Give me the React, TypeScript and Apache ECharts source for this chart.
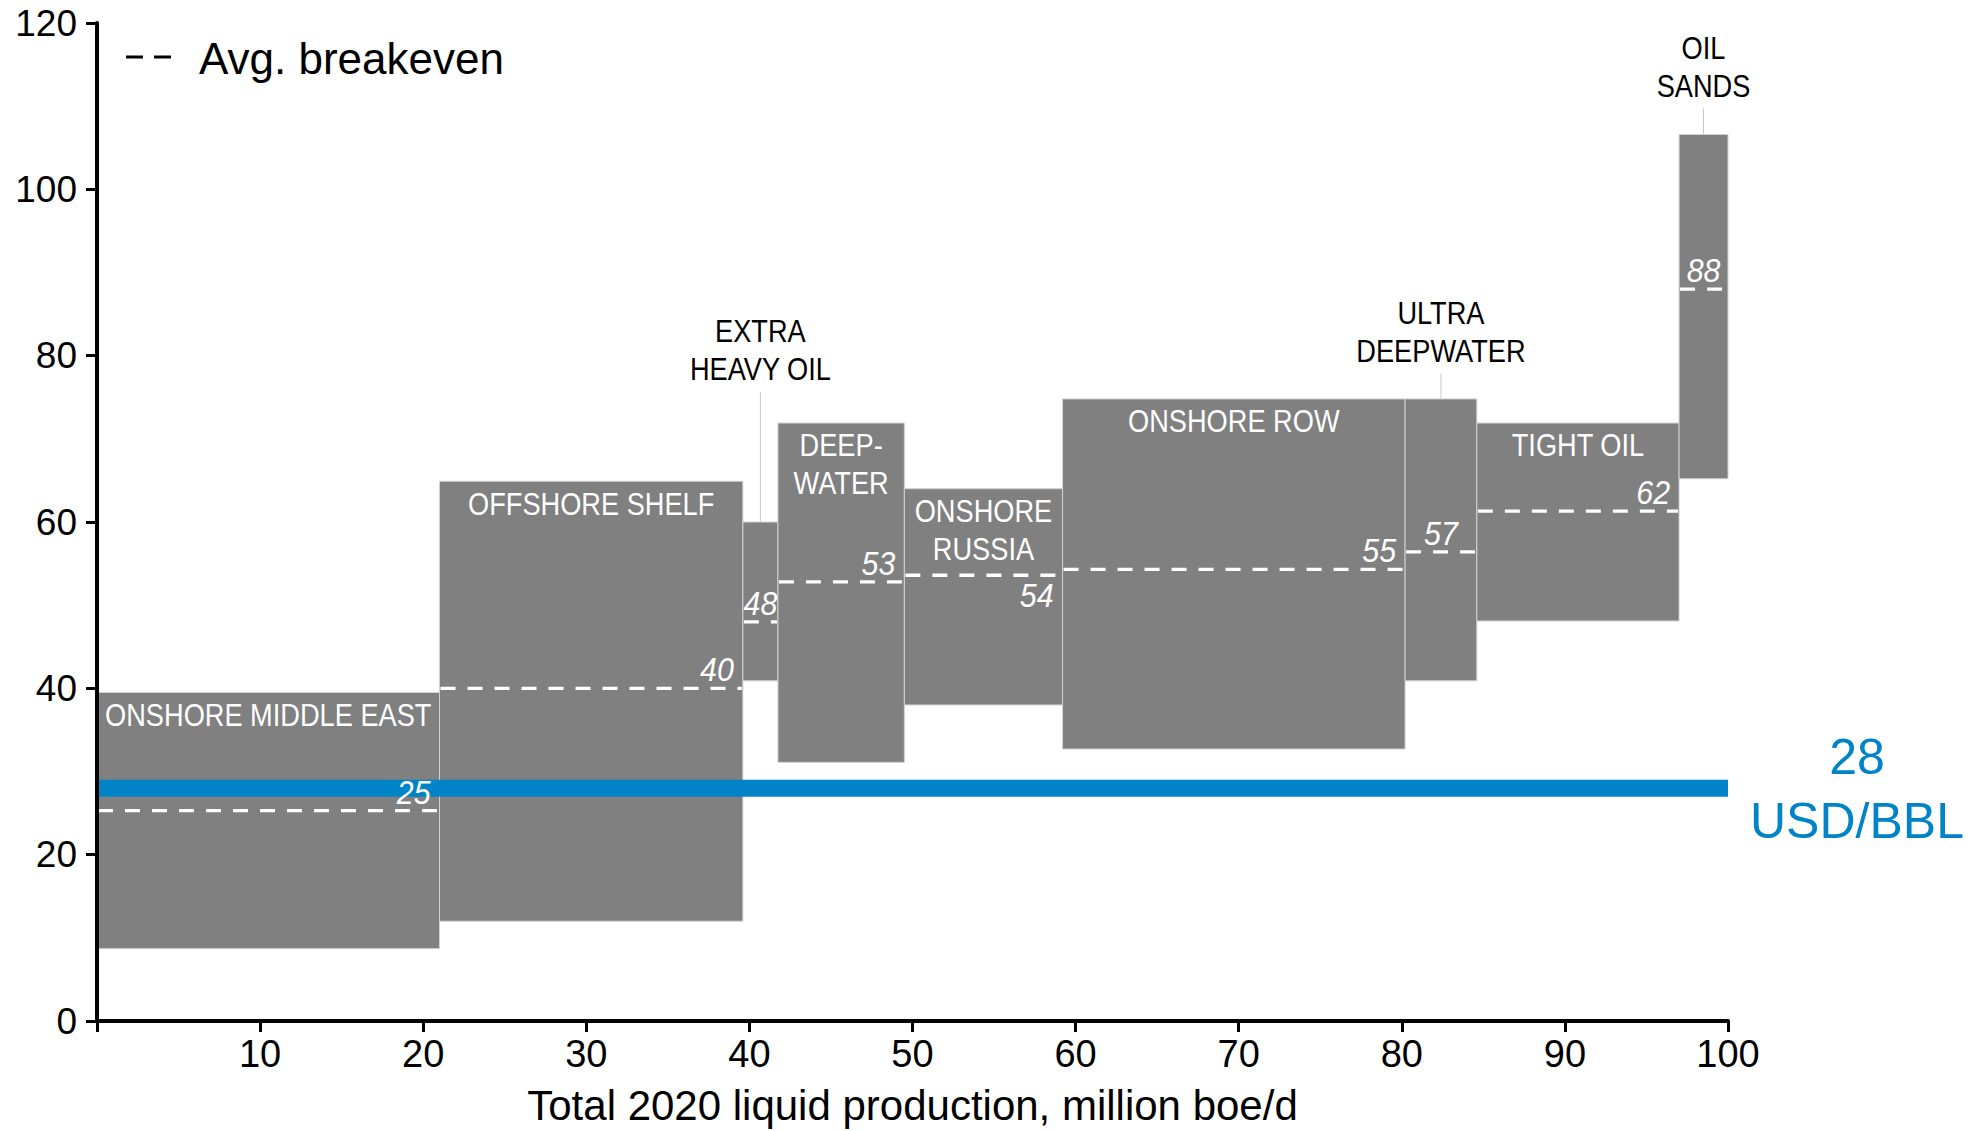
import React, { useEffect, useRef } from 'react';
import * as echarts from 'echarts';

// ---------- data ----------
const categories = [
  'ONSHORE MIDDLE EAST',
  'OFFSHORE SHELF',
  'EXTRA HEAVY OIL',
  'DEEPWATER',
  'ONSHORE RUSSIA',
  'ONSHORE ROW',
  'ULTRA DEEPWATER',
  'TIGHT OIL',
  'OIL SANDS',
];
const categoryLabels = [
  'ONSHORE MIDDLE EAST',
  'OFFSHORE SHELF',
  'EXTRA\nHEAVY OIL',
  'DEEP-\nWATER',
  'ONSHORE\nRUSSIA',
  'ONSHORE ROW',
  'ULTRA\nDEEPWATER',
  'TIGHT OIL',
  'OIL\nSANDS',
];
// production, million boe/d (width of each block)
const production = [21, 18.6, 2.15, 7.75, 9.7, 21, 4.4, 12.4, 3];
// cost range, USD/bbl
const costLow = [8.7, 12, 40.9, 31.1, 38, 32.7, 40.9, 48.1, 65.2];
const costHigh = [39.5, 64.9, 60, 71.9, 64, 74.8, 74.8, 71.9, 106.6];
// average breakeven
const breakeven = [25.3, 40, 48, 52.8, 53.6, 54.3, 56.4, 61.3, 88];
const breakevenLabels = ['25', '40', '48', '53', '54', '55', '57', '62', '88'];
// oil price reference
const oilPrice = 28;
const oilPriceLabel = ['28', 'USD/BBL'];

const legendText = 'Avg. breakeven';
const xAxisTitle = 'Total 2020 liquid production, million boe/d';

// ---------- style / layout settings ----------
const outsideLabel = [false, false, true, false, false, false, true, false, true];
const leaderPx = [0, 0, 130, 0, 0, 0, 25, 0, 26];
const breakevenBelow = [false, false, false, false, true, false, false, false, false];

const REG = "'Liberation Sans', Arial, sans-serif";
const GREY = '#808080';
const BLUE = '#0083c8';
const CAPS_SCALE = 0.85;

const starts: number[] = [];
const ends: number[] = [];
{
  let acc = 0;
  production.forEach((p) => {
    starts.push(acc);
    acc += p;
    ends.push(acc);
  });
}

const segData = categories.map((_, i) => [starts[i], ends[i], costLow[i], costHigh[i], breakeven[i]]);

export default function App() {
  const ref = useRef<HTMLDivElement>(null);

  useEffect(() => {
    if (!ref.current) return;
    const chart = echarts.init(ref.current, null, { renderer: 'svg' });

    const axisCommon = {
      z: 10,
      axisLine: { show: true, lineStyle: { color: '#000', width: 4 } },
      axisTick: { show: true, length: 11, lineStyle: { color: '#000', width: 3 } },
      splitLine: { show: false },
    };

    const option: any = {
      animation: false,
      grid: { left: 97, right: 253, top: 23, bottom: 105 },
      xAxis: {
        ...axisCommon,
        type: 'value',
        min: 0,
        max: 100,
        interval: 10,
        axisLabel: {
          margin: 14,
          color: '#000',
          fontFamily: REG,
          fontSize: 38,
          formatter: (v: number) => (v === 0 ? '' : String(v)),
        },
        name: xAxisTitle,
        nameLocation: 'middle',
        nameGap: 63,
        nameTextStyle: { color: '#000', fontFamily: REG, fontSize: 42 },
      },
      yAxis: {
        ...axisCommon,
        type: 'value',
        min: 0,
        max: 120,
        interval: 20,
        axisLabel: {
          margin: 20,
          color: '#000',
          fontFamily: REG,
          fontSize: 37,
        },
      },
      graphic: [
        {
          type: 'line',
          shape: { x1: 126, y1: 57, x2: 171, y2: 57 },
          style: { stroke: '#000', lineWidth: 3, lineDash: [17, 11] },
        },
        {
          type: 'text',
          x: 199,
          y: 58,
          style: {
            text: legendText,
            fill: '#000',
            fontFamily: REG,
            fontSize: 44,
            verticalAlign: 'middle',
            align: 'left',
          },
        },
      ],
      series: [
        {
          type: 'custom',
          z: 1,
          silent: true,
          data: segData,
          encode: { x: [0, 1], y: [2, 3] },
          renderItem: (params: any, api: any) => {
            const x0 = api.value(0);
            const x1 = api.value(1);
            const lo = api.value(2);
            const hi = api.value(3);
            const be = api.value(4);
            const p0 = api.coord([x0, hi]);
            const p1 = api.coord([x1, lo]);
            const yb = api.coord([x0, be])[1];
            return {
              type: 'group',
              children: [
                {
                  type: 'rect',
                  shape: { x: p0[0], y: p0[1], width: p1[0] - p0[0], height: p1[1] - p0[1] },
                  style: { fill: GREY, stroke: '#d2d2d2', lineWidth: 1 },
                },
                {
                  type: 'line',
                  shape: { x1: p0[0] + 1, y1: yb, x2: p1[0] - 1, y2: yb },
                  style: { stroke: '#fff', lineWidth: 3.3, lineDash: [15, 12] },
                },
              ],
            };
          },
        },
        {
          type: 'line',
          z: 3,
          silent: true,
          symbol: 'none',
          data: [
            [0, oilPrice],
            [100, oilPrice],
          ],
          lineStyle: { color: BLUE, width: 17, cap: 'butt' },
        },
        {
          type: 'custom',
          z: 4,
          silent: true,
          data: segData,
          encode: { x: [0, 1], y: [2, 3] },
          renderItem: (params: any, api: any) => {
            const i = params.dataIndex;
            const x0 = api.value(0);
            const x1 = api.value(1);
            const hi = api.value(3);
            const be = api.value(4);
            const p0 = api.coord([x0, hi]);
            const p1 = api.coord([x1, hi]);
            const cx = (p0[0] + p1[0]) / 2;
            const w = p1[0] - p0[0];
            const yb = api.coord([x0, be])[1];
            const children: any[] = [];
            // breakeven value label
            const narrowBox = w < 80;
            children.push({
              type: 'text',
              x: narrowBox ? cx : p1[0] - 9,
              y: breakevenBelow[i] ? yb + 4 : yb - 2,
              scaleX: 0.92,
              style: {
                text: breakevenLabels[i],
                fill: '#fff',
                fontFamily: REG,
                fontStyle: 'italic',
                fontSize: 33,
                align: narrowBox ? 'center' : 'right',
                verticalAlign: breakevenBelow[i] ? 'top' : 'bottom',
              },
            });
            if (outsideLabel[i]) {
              const topY = p0[1];
              const lead = leaderPx[i];
              children.push({
                type: 'line',
                shape: { x1: cx, y1: topY, x2: cx, y2: topY - lead },
                style: { stroke: '#c8c8c8', lineWidth: 1 },
              });
              children.push({
                type: 'text',
                x: cx,
                y: topY - lead - 4,
                scaleX: CAPS_SCALE,
                style: {
                  text: categoryLabels[i],
                  fill: '#000',
                  fontFamily: REG,
                  fontSize: 32,
                  lineHeight: 38,
                  align: 'center',
                  verticalAlign: 'bottom',
                },
              });
            } else {
              children.push({
                type: 'text',
                x: cx,
                y: p0[1] + 3,
                scaleX: CAPS_SCALE,
                style: {
                  text: categoryLabels[i],
                  fill: '#fff',
                  fontFamily: REG,
                  fontSize: 32,
                  lineHeight: 38,
                  align: 'center',
                  verticalAlign: 'top',
                },
              });
            }
            return { type: 'group', children };
          },
        },
        {
          type: 'custom',
          z: 4,
          silent: true,
          data: [[100, oilPrice]],
          encode: { x: 0, y: 1 },
          renderItem: (params: any, api: any) => {
            const p = api.coord([api.value(0), api.value(1)]);
            return {
              type: 'text',
              x: p[0] + 129,
              y: p[1] + 1,
              style: {
                text: oilPriceLabel.join('\n'),
                fill: BLUE,
                fontFamily: REG,
                fontSize: 50,
                lineHeight: 64,
                align: 'center',
                verticalAlign: 'middle',
              },
            };
          },
        },
      ],
    };

    chart.setOption(option);
    return () => chart.dispose();
  }, []);

  return (
    <div
      ref={ref}
      style={{ position: 'fixed', left: 0, top: 0, width: '1981px', height: '1131px', background: '#fff' }}
    />
  );
}
